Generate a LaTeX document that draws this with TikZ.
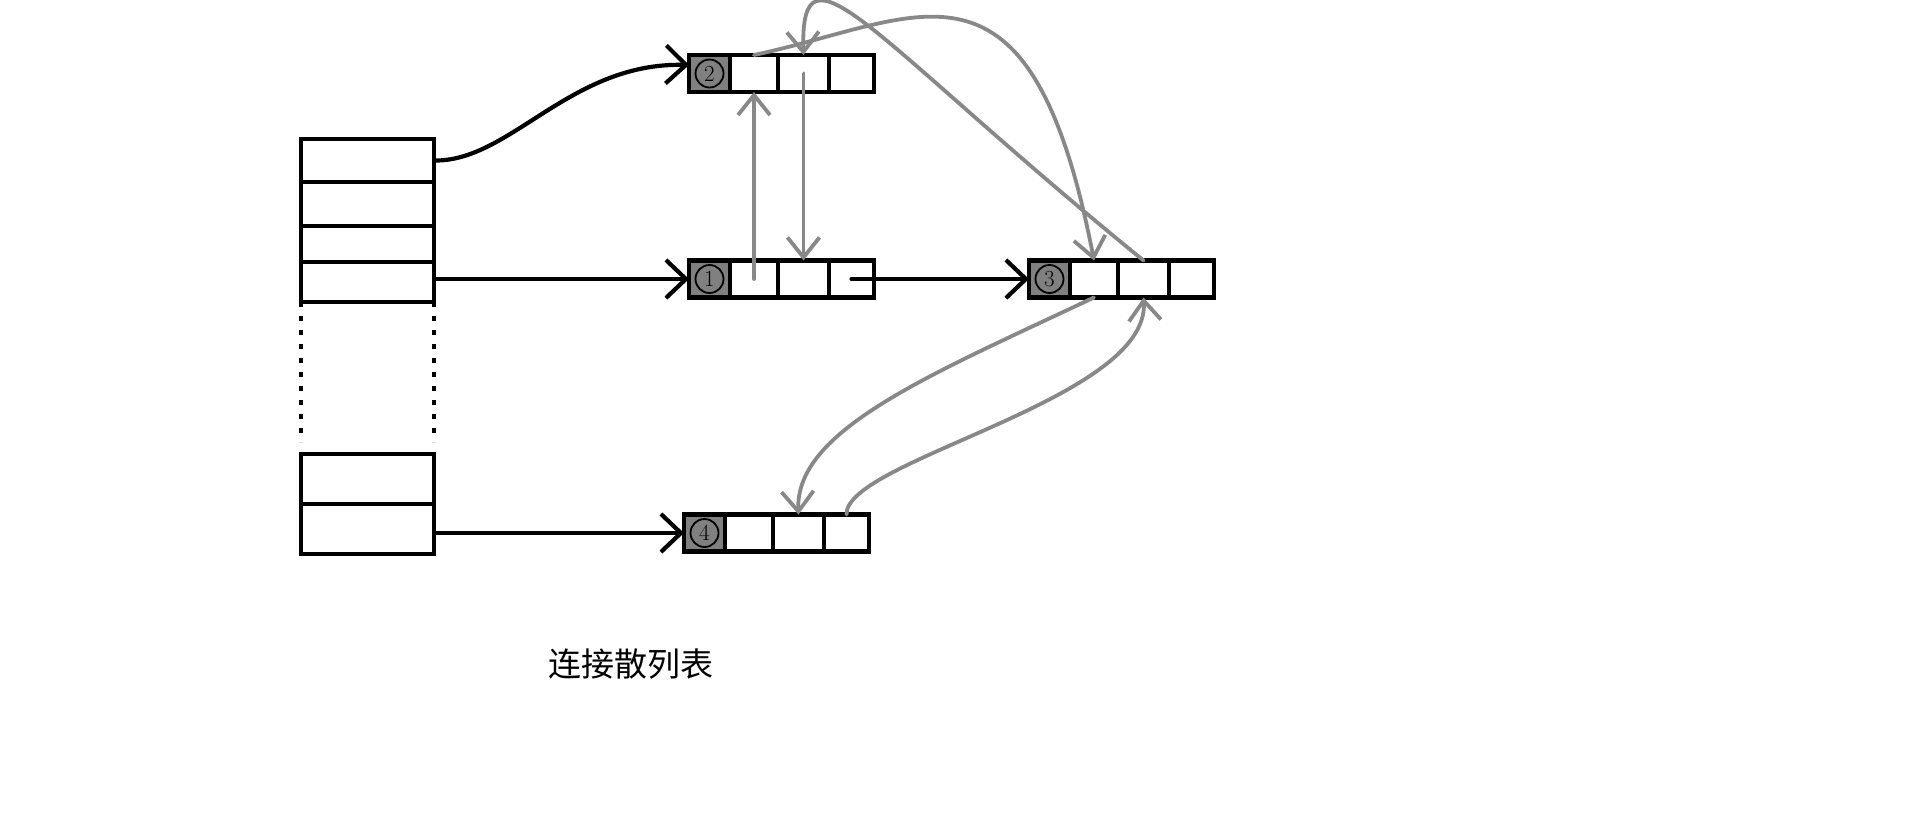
\documentclass[tikz,border=0pt]{standalone}
\usepackage{fontspec}
\newfontfamily\cjk{Noto Sans CJK SC}
\usetikzlibrary{arrows.meta,calc}
\definecolor{headgray}{RGB}{128,128,128}
\definecolor{linkgray}{RGB}{136,136,136}
\begin{document}
\begin{tikzpicture}[x=1pt,y=-1pt,
  slot/.style={draw, line width=4.5pt, minimum width=133pt, inner sep=0pt, outer sep=0pt, anchor=north},
  cell/.style={draw, line width=4.5pt, minimum height=37pt, inner sep=0pt, outer sep=0pt, anchor=west},
  headcell/.style={cell, fill=headgray, minimum width=41pt},
  circnum/.style={circle, draw, line width=1.8pt, minimum size=28pt, inner sep=0pt,
    font=\fontsize{23}{23}\selectfont},
  dotline/.style={line width=4.5pt, dash pattern=on 5pt off 9pt},
  blk/.style={line width=4.2pt, -{Straight Barb[length=20pt,width=38pt]}},
  gry/.style={draw=linkgray, line width=3.8pt, line cap=round, -{Straight Barb[length=20pt,width=32pt]}}]
\useasboundingbox (0,0) rectangle (1914,819);

% bucket array
\node[slot, minimum height=43pt] (t1) at (367.5,139) {};
\node[slot, minimum height=44pt] (t2) at (t1.south) {};
\node[slot, minimum height=36pt] (t3) at (t2.south) {};
\node[slot, minimum height=40pt] (t4) at (t3.south) {};
\node[slot, minimum height=50pt] (t5) at (367.5,454) {};
\node[slot, minimum height=50pt] (t6) at (t5.south) {};
\draw[dotline] (t4.south west) -- ++(0,140);
\draw[dotline] (t4.south east) -- ++(0,140);

% records: header cell plus three fields
\newcommand{\record}[3]{%
  \node[headcell] (#1h) at (#2) {};
  \node[cell, minimum width=48pt] (#1a) at (#1h.east) {};
  \node[cell, minimum width=51pt] (#1b) at (#1a.east) {};
  \node[cell, minimum width=45pt] (#1c) at (#1b.east) {};
  \node[circnum] (#1n) at (#1h.center) {#3};
}
\record{r2}{689,73.5}{2}
\record{r1}{689,279}{1}
\record{r3}{1029,279}{3}
\record{r4}{684,533}{4}

% bucket pointers
\draw[blk] (t1.east) .. controls (510,162) and (570,62) .. ($(r2h.west)+(0,-8.5)$);
\draw[blk] (t4.east |- r1h.west) -- (r1h.west);
\draw[blk] (t6.east |- r4h.west) -- (r4h.west);
\draw[blk, line cap=round] (r1c.center) -- (r3h.west);

% list links
\draw[gry] (r1a.center) -- (r2a.south);
\draw[gry] (r2b.center) -- (r1b.north);
\draw[gry] (r2a.north) .. controls (920,20) and (1030,-70) .. (r3a.north);
\draw[gry] (r3b.north) .. controls (870,38) and (800,-70) .. (r2b.north);
\draw[gry] (r3a.south) .. controls (930,375) and (795,430) .. (r4b.north);
\draw[gry] (r4c.north) .. controls (845,460) and (1150,400) .. (r3b.south);

\node[font=\cjk\fontsize{33}{33}\selectfont] (cap) at (631,664) {连接散列表};
\end{tikzpicture}
\end{document}
